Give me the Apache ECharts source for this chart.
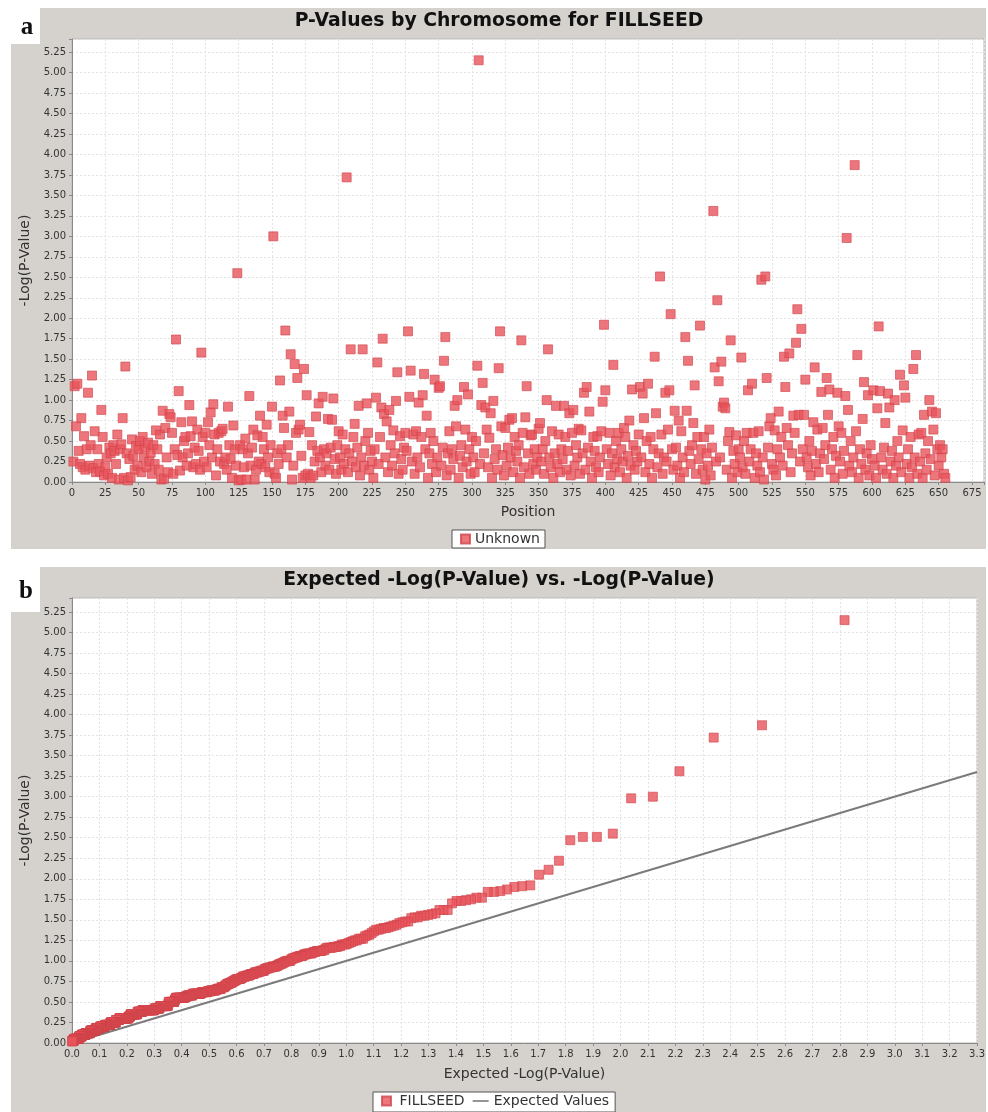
<!DOCTYPE html>
<html>
<head>
<meta charset="utf-8">
<title>FILLSEED -Log(P-Value)</title>
<script src="https://cdn.jsdelivr.net/npm/echarts@6/dist/echarts.min.js"></script>
<style>
  html, body { margin: 0; padding: 0; background: #fff; }
  #main { width: 988px; height: 1112px; }
</style>
</head>
<body>
<div id="main"></div>
<script>
// -Log(P-Value) per marker, position = index + 1, one row per 25 positions
var logP = [
  0.25,1.17,0.68,1.20,0.38,0.22,0.78,0.18,0.56,0.15,0.40,1.09,0.20,0.45,1.30,0.17,0.62,0.12,0.40,0.22,0.13,0.88,0.55,0.08,0.18,
  0.30,0.10,0.42,0.35,0.05,0.45,0.38,0.22,0.58,0.03,0.40,0.46,0.78,0.05,1.41,0.35,0.02,0.28,0.06,0.52,0.32,0.15,0.44,0.20,0.40,
  0.50,0.12,0.55,0.30,0.42,0.18,0.48,0.25,0.36,0.10,0.45,0.22,0.63,0.40,0.15,0.58,0.03,0.87,0.04,0.66,0.30,0.12,0.83,0.79,0.60,
  0.10,0.40,1.74,0.33,1.11,0.14,0.73,0.30,0.50,0.55,0.20,0.35,0.94,0.56,0.74,0.18,0.42,0.22,0.64,0.38,0.15,1.58,0.55,0.25,0.60,
  0.18,0.73,0.45,0.85,0.30,0.95,0.58,0.08,0.40,0.60,0.25,0.62,0.65,0.22,0.30,0.15,0.92,0.45,0.28,0.05,0.69,0.40,0.20,2.55,0.02,
  0.45,0.03,0.40,0.18,0.53,0.03,0.35,1.05,0.20,0.42,0.64,0.03,0.15,0.57,0.25,0.81,0.22,0.55,0.40,0.18,0.70,0.30,0.12,0.45,0.92,
  3.00,0.10,0.05,0.35,0.22,1.24,0.40,0.81,0.66,1.85,0.30,0.45,0.86,1.56,0.03,0.20,1.44,0.60,1.27,0.64,0.70,0.32,0.05,1.38,0.08,
  1.06,0.10,0.61,0.05,0.45,0.08,0.25,0.80,0.38,0.96,0.30,0.12,1.04,0.40,0.20,0.35,0.77,0.15,0.42,0.76,1.02,0.28,0.10,0.45,0.62,
  0.30,0.15,0.58,0.22,0.40,3.72,0.12,0.35,1.62,0.25,0.55,0.71,0.18,0.42,0.93,0.08,0.30,1.62,0.20,0.50,0.96,0.60,0.15,0.38,0.25,
  0.05,0.40,1.03,1.46,0.22,0.55,0.91,1.75,0.83,0.30,0.74,0.12,0.88,0.45,0.20,0.63,0.35,0.99,1.34,0.10,0.56,0.28,0.15,0.42,0.60,
  0.38,1.84,1.04,1.36,0.25,0.58,0.10,0.62,0.30,0.97,0.18,0.55,1.06,1.32,0.40,0.81,0.05,0.35,0.60,0.22,0.50,1.25,0.12,0.30,1.15,
  1.17,0.20,0.42,1.48,1.77,0.08,0.35,0.62,0.15,0.40,0.28,0.93,0.68,1.00,0.05,0.32,0.45,0.18,1.16,0.64,0.25,1.07,0.40,0.10,0.55,
  0.30,0.12,0.50,1.42,5.15,0.22,0.94,1.21,0.35,0.91,0.64,0.18,0.54,0.84,0.05,0.99,0.28,0.40,0.15,1.39,1.84,0.68,0.33,0.08,0.66,
  0.20,0.42,0.76,0.30,0.78,0.12,0.55,0.38,0.25,0.45,0.05,1.73,0.60,0.18,0.79,1.17,0.35,0.10,0.57,0.58,0.22,0.40,0.15,0.30,0.65,
  0.72,0.25,0.40,0.10,0.50,1.00,1.62,0.30,0.18,0.62,0.05,0.35,0.93,0.22,0.58,0.12,0.40,0.28,0.93,0.55,0.15,0.38,0.84,0.08,0.60,
  0.88,0.20,0.45,0.30,0.65,0.10,0.63,0.35,1.09,0.15,1.16,0.42,0.86,0.25,0.05,0.55,0.38,0.18,0.56,0.12,0.30,0.62,0.98,1.92,1.12,
  0.40,0.22,0.60,0.08,0.35,1.43,0.18,0.50,0.28,0.60,0.12,0.40,0.25,0.66,0.55,0.05,0.32,0.75,0.20,1.13,0.45,0.15,0.38,0.25,0.58,
  1.16,0.30,1.08,0.78,0.12,0.50,1.20,0.22,0.55,0.05,0.40,1.53,0.84,0.18,0.35,2.51,0.58,0.10,0.30,1.09,0.25,0.64,1.12,2.05,0.40,
  0.15,0.87,0.42,0.20,0.75,0.05,0.62,0.30,0.12,1.77,0.87,1.48,0.38,0.22,0.45,0.72,1.18,0.10,0.55,0.28,1.91,0.40,0.15,0.55,0.03,
  0.35,0.20,0.64,0.08,0.42,3.31,1.40,0.25,2.22,1.23,0.30,1.47,0.92,0.97,0.90,0.15,0.50,0.61,1.73,0.05,0.38,0.22,0.57,0.12,0.40,
  0.30,1.52,0.18,0.50,0.10,0.60,1.12,0.25,0.40,1.20,0.60,0.05,0.35,0.20,0.62,0.12,2.47,0.30,0.03,2.51,1.27,0.42,0.68,0.78,0.22,
  0.15,0.63,0.08,0.40,0.86,0.30,0.55,0.20,1.53,1.16,0.66,0.45,1.57,0.12,0.35,0.81,0.60,1.70,2.11,0.82,0.25,1.87,0.40,0.82,1.25,
  0.30,0.18,0.50,0.08,0.38,0.73,1.40,0.22,0.64,0.12,0.35,1.10,0.66,0.28,0.45,1.27,0.82,1.13,0.15,0.40,0.55,0.05,0.32,1.09,0.68,
  0.25,0.60,0.10,0.38,1.05,2.98,0.88,0.20,0.50,0.12,0.30,3.87,0.62,1.55,0.05,0.40,0.22,0.77,1.22,0.15,0.35,1.06,0.08,0.45,0.28,
  1.12,0.20,0.05,0.90,1.90,1.11,0.30,0.15,0.42,0.72,0.10,1.08,0.91,0.25,0.38,0.05,1.00,0.20,0.50,0.30,1.31,0.12,0.63,1.18,1.03,
  0.22,0.40,0.05,0.55,0.18,1.38,0.30,1.55,0.10,0.58,0.25,0.60,0.05,0.82,0.35,0.15,0.50,1.00,0.28,0.86,0.64,0.08,0.84,0.40,0.20,
  0.45,0.30,0.40,0.10,0.05
];
// expected line y = x
var expectedLine = [[0, 0], [3.3, 3.3]];

var titles = ['P-Values by Chromosome for FILLSEED', 'Expected -Log(P-Value) vs. -Log(P-Value)'];
var panelTags = ['a', 'b'];

// panel a points
var manhattan = logP.map(function (v, i) { return [i + 1, v]; });
// panel b: observed sorted against expected quantiles
var n = logP.length;
var qq = logP.slice().sort(function (a, b) { return b - a; }).map(function (v, i) {
  return [-Math.log10((i + 1) / (n + 1)), v];
});

function fmtQuarter(v) { return Math.abs(v * 4 - Math.round(v * 4)) < 1e-6 ? v.toFixed(2) : ''; }
function fmtTenth(v) { return Math.abs(v * 10 - Math.round(v * 10)) < 1e-6 ? v.toFixed(1) : ''; }
function fmtStep25(v) { return Math.abs(v % 25) < 1e-6 ? String(v) : ''; }

var panelGray = '#d5d2cd';
var font = 'DejaVu Sans';
var axisLine = { show: true, lineStyle: { color: '#8a8a8a', width: 1 } };
var axisTick = { show: true, length: 3, lineStyle: { color: '#8a8a8a' } };
var splitLine = { show: true, lineStyle: { color: '#e3e3e3', type: [2, 2], width: 1 } };
var tickLabel = { color: '#333', fontSize: 10, fontFamily: font, margin: 6 };
var axisName = { color: '#333', fontSize: 14, fontFamily: font };
var legendText = { fontSize: 14, color: '#333', fontFamily: font };
var titleText = { fontSize: 18.8, fontWeight: 'bold', color: '#111', fontFamily: font };
var square = { color: '#e8545b', borderColor: '#cf454c', borderWidth: 0.8 };

var chart = echarts.init(document.getElementById('main'));
chart.setOption({
  animation: false,
  backgroundColor: '#fff',
  graphic: [
    { type: 'rect', z: -10, shape: { x: 11, y: 8, width: 975, height: 541 }, style: { fill: panelGray } },
    { type: 'rect', z: -9, shape: { x: 0, y: 0, width: 40, height: 44 }, style: { fill: '#fff' } },
    { type: 'text', z: -8, style: { text: panelTags[0], x: 27, y: 28, align: 'center', verticalAlign: 'middle',
        font: 'bold 25px "Liberation Serif"', fill: '#111' } },
    { type: 'rect', z: -10, shape: { x: 11, y: 567, width: 975, height: 545 }, style: { fill: panelGray } },
    { type: 'rect', z: -9, shape: { x: 0, y: 555, width: 40, height: 57 }, style: { fill: '#fff' } },
    { type: 'text', z: -8, style: { text: panelTags[1], x: 26, y: 592, align: 'center', verticalAlign: 'middle',
        font: 'bold 25px "Liberation Serif"', fill: '#111' } }
  ],
  title: [
    { text: titles[0], left: 499, top: 12, textAlign: 'center', padding: 0, textStyle: titleText },
    { text: titles[1], left: 499, top: 571, textAlign: 'center', padding: 0, textStyle: titleText }
  ],
  legend: [
    { left: 452, top: 530, selectedMode: false, data: [{ name: 'Unknown', icon: 'path://M0,0H10V10H0Z' }],
      backgroundColor: '#fff', borderColor: '#555', borderWidth: 1, borderRadius: 0, padding: [2, 5, 2, 8],
      itemWidth: 9, itemHeight: 9, itemGap: 8, textStyle: legendText },
    { left: 373, top: 1092, selectedMode: false,
      data: [{ name: 'FILLSEED', icon: 'path://M0,0H10V10H0Z' },
             { name: 'Expected Values', icon: 'path://M0,0H20V2H0Z' }],
      backgroundColor: '#fff', borderColor: '#555', borderWidth: 1, borderRadius: 0, padding: [2, 6, 4, 8],
      itemWidth: 16, itemHeight: 9, itemGap: 8, textStyle: legendText }
  ],
  grid: [
    { left: 72, top: 39, width: 912, height: 443, show: true, backgroundColor: '#fff', borderColor: '#b8b8b8', borderWidth: 1 },
    { left: 72, top: 598, width: 911, height: 445, show: true, backgroundColor: '#fff', borderColor: '#b8b8b8', borderWidth: 1 }
  ],
  xAxis: [
    { type: 'value', gridIndex: 0, min: 0, max: 684, interval: 25, name: 'Position',
      nameLocation: 'middle', nameGap: 23, nameTextStyle: axisName,
      axisLine: axisLine, axisTick: axisTick, splitLine: splitLine,
      axisLabel: Object.assign({ formatter: fmtStep25 }, tickLabel) },
    { type: 'value', gridIndex: 1, min: 0, max: 3.3, interval: 0.1, name: 'Expected -Log(P-Value)',
      nameLocation: 'middle', nameGap: 24, nameTextStyle: axisName,
      axisLine: axisLine, axisTick: axisTick, splitLine: splitLine,
      axisLabel: Object.assign({ formatter: fmtTenth }, tickLabel) }
  ],
  yAxis: [
    { type: 'value', gridIndex: 0, min: 0, max: 5.41, interval: 0.25, name: '-Log(P-Value)',
      nameLocation: 'middle', nameGap: 37, nameTextStyle: axisName,
      axisLine: axisLine, axisTick: axisTick, splitLine: splitLine,
      axisLabel: Object.assign({ formatter: fmtQuarter }, tickLabel) },
    { type: 'value', gridIndex: 1, min: 0, max: 5.42, interval: 0.25, name: '-Log(P-Value)',
      nameLocation: 'middle', nameGap: 37, nameTextStyle: axisName,
      axisLine: axisLine, axisTick: axisTick, splitLine: splitLine,
      axisLabel: Object.assign({ formatter: fmtQuarter }, tickLabel) }
  ],
  series: [
    { name: 'Unknown', type: 'scatter', xAxisIndex: 0, yAxisIndex: 0, symbol: 'rect', symbolSize: 9,
      itemStyle: square, data: manhattan },
    { name: 'Expected Values', type: 'line', xAxisIndex: 1, yAxisIndex: 1, symbol: 'none', showSymbol: false,
      lineStyle: { color: '#7b7b7b', width: 2 }, itemStyle: { color: '#7b7b7b' }, data: expectedLine, z: 1 },
    { name: 'FILLSEED', type: 'scatter', xAxisIndex: 1, yAxisIndex: 1, symbol: 'rect', symbolSize: 9,
      itemStyle: square, data: qq, z: 2 }
  ]
});
</script>
</body>
</html>
